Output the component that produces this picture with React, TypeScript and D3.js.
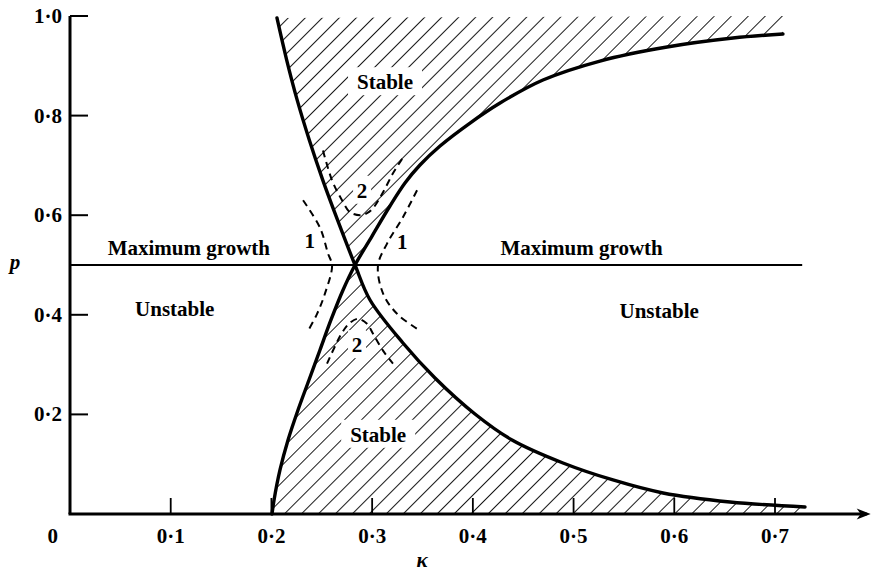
import React from 'react';
import * as d3 from 'd3';

// stability boundaries, (kappa, p)
const curveA: [number, number][] = [
  [0.2055, 0.996], [0.2151, 0.912], [0.2256, 0.831], [0.2376, 0.751], [0.2509, 0.671],
  [0.2657, 0.59], [0.283, 0.5], [0.2979, 0.4297], [0.3306, 0.3434], [0.3624, 0.2731],
  [0.4021, 0.2008], [0.4389, 0.1486], [0.4895, 0.1024], [0.5391, 0.0683], [0.5888, 0.0422],
  [0.6553, 0.0241], [0.7298, 0.0141],
];
const curveB: [number, number][] = [
  [0.2006, 0.0], [0.2026, 0.0281], [0.2085, 0.0884], [0.2165, 0.1486], [0.2264, 0.2088],
  [0.2373, 0.2691], [0.2482, 0.3293], [0.2591, 0.3896], [0.2711, 0.4498], [0.283, 0.5],
  [0.2999, 0.5582], [0.3177, 0.6185], [0.3326, 0.6647], [0.3475, 0.7008], [0.3674, 0.739],
  [0.3972, 0.7851], [0.427, 0.8253], [0.4696, 0.8715], [0.5262, 0.9096], [0.5928, 0.9378],
  [0.6583, 0.9558], [0.7079, 0.9639],
];

// dashed contours labelled 1 and 2
const arc1Left: [number, number][] = [
  [0.2314, 0.63], [0.2482, 0.575], [0.2562, 0.523], [0.2602, 0.499],
  [0.2532, 0.443], [0.2453, 0.402], [0.2353, 0.364],
];
const arc1Right: [number, number][] = [
  [0.3446, 0.65], [0.3306, 0.596], [0.3148, 0.543], [0.3058, 0.499],
  [0.3108, 0.443], [0.3247, 0.402], [0.3446, 0.372],
];
const arc2Upper: [number, number][] = [
  [0.2512, 0.73], [0.2602, 0.67], [0.2701, 0.63], [0.278, 0.606], [0.288, 0.6],
  [0.2949, 0.604], [0.3009, 0.614], [0.3108, 0.646], [0.3207, 0.684], [0.3307, 0.716],
];
const arc2Lower: [number, number][] = [
  [0.2552, 0.302], [0.2701, 0.364], [0.278, 0.384], [0.286, 0.392], [0.2949, 0.382],
  [0.3009, 0.362], [0.3108, 0.328], [0.3207, 0.302],
];

const maxGrowthP = 0.5;
const maxGrowthEnd = 0.727;

const xTicks = [0.1, 0.2, 0.3, 0.4, 0.5, 0.6, 0.7];
const yTicks = [0.2, 0.4, 0.6, 0.8, 1.0];

const labels = [
  { text: 'Stable', k: 0.3128, p: 0.853, box: true },
  { text: 'Stable', k: 0.306, p: 0.145, box: true },
  { text: 'Unstable', k: 0.104, p: 0.398 },
  { text: 'Unstable', k: 0.585, p: 0.394 },
  { text: 'Maximum growth', k: 0.118, p: 0.52 },
  { text: 'Maximum growth', k: 0.508, p: 0.52 },
  { text: '1', k: 0.238, p: 0.534 },
  { text: '1', k: 0.33, p: 0.532 },
  { text: '2', k: 0.29, p: 0.635, box: true },
  { text: '2', k: 0.285, p: 0.325, box: true },
];

const fmt = (v: number) => v.toFixed(1).replace('.', '\u00b7');

const W = 872;
const H = 575;
const font = "'Liberation Serif', 'DejaVu Serif', serif";

export default function App() {
  const x = d3.scaleLinear().domain([0, 0.7]).range([70, 775]);
  const y = d3.scaleLinear().domain([0, 1]).range([514, 16]);

  const line = d3.line<[number, number]>()
    .x(d => x(d[0]))
    .y(d => y(d[1]))
    .curve(d3.curveCatmullRom.alpha(0.5));
  const cont = (pts: [number, number][]) => (line(pts) || '').replace(/^M/, 'L');

  const aUp = curveA.filter(d => d[1] >= 0.5);
  const aLo = curveA.filter(d => d[1] <= 0.5);
  const bUp = curveB.filter(d => d[1] >= 0.5);
  const bLo = curveB.filter(d => d[1] <= 0.5);

  const upperRegion = line(aUp) + cont(bUp) +
    `L${x(bUp[bUp.length - 1][0])},${y(1)}Z`;
  const lowerRegion = line(bLo) + cont(aLo) +
    `L${x(aLo[aLo.length - 1][0])},${y(0)}Z`;

  const x0 = x(0);
  const y0 = y(0);
  const axisEnd = x(0.795);

  return (
    <svg width={W} height={H} style={{ position: 'absolute', left: 0, top: 0, background: '#fff' }}
      fontFamily={font}>
      <defs>
        <pattern id="hatch" width="12" height="12" patternUnits="userSpaceOnUse"
          patternTransform="rotate(45)">
          <line x1="0" y1="0" x2="0" y2="12" stroke="#000" strokeWidth="1.8" />
        </pattern>
      </defs>

      <path d={upperRegion} fill="url(#hatch)" />
      <path d={lowerRegion} fill="url(#hatch)" />

      {/* blank spaces behind labels in the hatching */}
      {labels.filter(l => l.box).map((l, i) => {
        const w = l.text.length > 1 ? 74 : 18;
        return <rect key={'b' + i} x={x(l.k) - w / 2} y={y(l.p) - 22} width={w} height={28} fill="#fff" />;
      })}

      {/* max growth line */}
      <line x1={x0} x2={x(maxGrowthEnd)} y1={y(maxGrowthP)} y2={y(maxGrowthP)} stroke="#000" strokeWidth={2} />

      {/* boundaries */}
      <path d={line(curveA) || ''} fill="none" stroke="#000" strokeWidth={3.4} strokeLinecap="round" />
      <path d={line(curveB) || ''} fill="none" stroke="#000" strokeWidth={3.4} strokeLinecap="round" />

      {[arc1Left, arc1Right, arc2Upper, arc2Lower].map((pts, i) =>
        <path key={'d' + i} d={line(pts) || ''} fill="none" stroke="#000" strokeWidth={2} strokeDasharray="7 5" />
      )}

      {/* axes */}
      <line x1={x0} x2={x0} y1={y(1)} y2={y0} stroke="#000" strokeWidth={3} />
      <line x1={x0 - 1.5} x2={axisEnd - 4} y1={y0} y2={y0} stroke="#000" strokeWidth={3} />
      <path d={`M${axisEnd},${y0}L${axisEnd - 14},${y0 - 5.5}L${axisEnd - 10},${y0}L${axisEnd - 14},${y0 + 5.5}Z`} fill="#000" />

      <g fontWeight="bold" fontSize={21} fill="#000">
        {xTicks.map(t => (
          <g key={'x' + t} transform={`translate(${x(t)},0)`}>
            <line y1={y0} y2={y0 - 16} stroke="#000" strokeWidth={1.8} />
            <text y={y0 + 29} textAnchor="middle">{fmt(t)}</text>
          </g>
        ))}
        <text x={x0 - 12} y={y0 + 29} textAnchor="end">0</text>
        {yTicks.map(t => (
          <g key={'y' + t} transform={`translate(0,${y(t)})`}>
            <line x1={x0} x2={x0 + 18} stroke="#000" strokeWidth={2} />
            <text x={x0 - 8} y={7} textAnchor="end">{fmt(t)}</text>
          </g>
        ))}
        <text x={422} y={y0 + 53} textAnchor="middle" fontStyle="italic">κ</text>
        <text x={15} y={y(0.5) + 4} textAnchor="middle" fontStyle="italic">p</text>

        {labels.map((l, i) => (
          <text key={'l' + i} x={x(l.k)} y={y(l.p)} textAnchor="middle">{l.text}</text>
        ))}
      </g>
    </svg>
  );
}
